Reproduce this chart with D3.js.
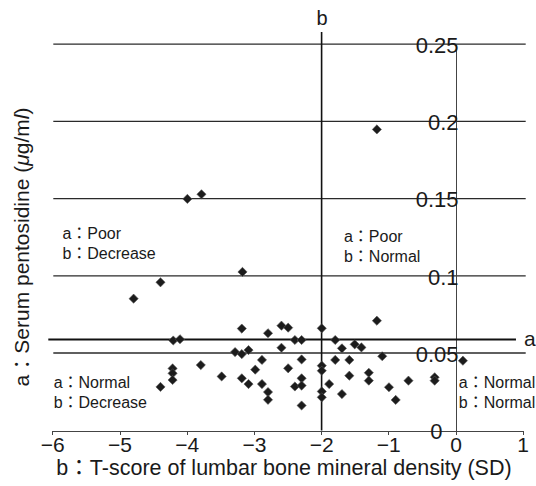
<!DOCTYPE html>
<html lang="en">
	<head>
		<meta charset="utf-8">
		<title>D3: Pentosidine vs T-score</title>
		<script src="https://d3js.org/d3.v7.min.js"></script>
		<style type="text/css">
			body {
				margin: 0;
				background: white;
			}
			text {
				font-family: "Liberation Sans", Arial, "Noto Sans CJK JP", sans-serif;
				fill: #1a1a1a;
			}
			.grid line {
				stroke: #2a2a2a;
				stroke-width: 1.3;
			}
			.axis path,
			.axis line {
				fill: none;
				stroke: #444;
				shape-rendering: crispEdges;
			}
			.x.axis text {
				font-size: 21px;
			}
			.y.axis text {
				font-size: 22px;
			}
			.quad {
				font-size: 16px;
			}
			path.point {
				fill: #1c1c1c;
				stroke: #555;
				stroke-width: 0.6;
			}
		</style>
	</head>
	<body>
		<script type="text/javascript">
			//Width and height
			var w = 536;
			var h = 486;

			//T-score of lumbar BMD (SD)
			var tScore = [
				-1.17, -3.99, -3.78, -3.17, -4.39, -4.79, -3.18, -2.79, -2.59, -2.49,
				-1.99, -1.17, -4.20, -4.10, -2.39, -2.29, -1.79, -3.28, -3.18, -3.08,
				-2.59, -1.69, -1.50, -1.40, -1.09, -2.88, -2.29, -1.79, -1.58, 0.11,
				-3.79, -1.99, -1.99, -2.98, -2.49, -4.21, -4.21, -4.21, -3.48, -3.18,
				-2.29, -1.58, -1.29, -1.29, -0.70, -0.31, -0.31, -3.08, -2.88, -2.39,
				-2.29, -1.88, -4.39, -0.99, -2.79, -1.99, -1.99, -1.69, -2.79, -0.89,
				-2.29
			];
			//Serum pentosidine (ug/ml)
			var pentosidine = [
				0.195, 0.150, 0.153, 0.1027, 0.096, 0.0854, 0.066, 0.063, 0.0679, 0.0666,
				0.0662, 0.0711, 0.0583, 0.0591, 0.0586, 0.0586, 0.0586, 0.0508, 0.0495, 0.0521,
				0.0536, 0.0532, 0.0558, 0.0538, 0.0481, 0.0457, 0.046, 0.0457, 0.0457, 0.0452,
				0.0424, 0.042, 0.0387, 0.0394, 0.0403, 0.0402, 0.037, 0.0327, 0.035, 0.0338,
				0.0338, 0.0355, 0.0374, 0.0323, 0.0323, 0.0345, 0.0323, 0.0301, 0.0301, 0.0285,
				0.0291, 0.0301, 0.0282, 0.028, 0.0249, 0.0253, 0.0215, 0.0236, 0.0199, 0.0198,
				0.0162
			];

			var xTicks = [-6, -5, -4, -3, -2, -1, 0, 1];
			var yTicks = [0, 0.05, 0.1, 0.15, 0.2, 0.25];
			var yTickLabels = ["0", "0.05", "0.1", "0.15", "0.2", "0.25"];

			//Cut-off lines
			var aCutoff = 0.059;	//pentosidine
			var bCutoff = -2;		//T-score

			//Quadrant captions: position in data units, two lines each
			var quadX = [-5.85, -1.66, -5.98, 0.05];
			var quadY = [0.124, 0.1224, 0.0275, 0.0275];
			var quadA = ["a：Poor", "a：Poor", "a：Normal", "a：Normal"];
			var quadB = ["b：Decrease", "b：Normal", "b：Decrease", "b：Normal"];

			var dataset = tScore.map(function(d, i) { return [d, pentosidine[i]]; });

			//Create scale functions
			var xScale = d3.scaleLinear()
								 .domain([-6, 1])
								 .range([52.3, 522.7]);
			var yScale = d3.scaleLinear()
								 .domain([0, 0.25])
								 .range([430.5, 44.5]);

			//Create SVG element
			var svg = d3.select("body")
						.append("svg")
						.attr("width", w)
						.attr("height", h);

			//Horizontal grid lines (every y tick except 0)
			svg.append("g")
			   .attr("class", "grid")
			   .selectAll("line")
			   .data(yTicks.filter(function(d) { return d > 0; }))
			   .enter()
			   .append("line")
			   .attr("x1", xScale(-6) + 1)
			   .attr("x2", xScale(1) + 3)
			   .attr("y1", function(d) { return yScale(d) - 0.3; })
			   .attr("y2", function(d) { return yScale(d) - 0.3; });

			//X axis
			var xAxis = d3.axisBottom()
							  .scale(xScale)
							  .tickValues(xTicks)
							  .tickFormat(d3.format("d"))
							  .tickSizeInner(4)
							  .tickSizeOuter(0)
							  .tickPadding(3);
			svg.append("g")
				.attr("class", "x axis")
				.attr("transform", "translate(0," + yScale(0) + ")")
				.call(xAxis)
				.attr("font-size", null)
				.attr("font-family", null);

			//Y axis (at T-score 0)
			var yAxis = d3.axisLeft()
							  .scale(yScale)
							  .tickValues(yTicks)
							  .tickFormat(function(d, i) { return yTickLabels[i]; })
							  .tickSize(0)
							  .tickPadding(-3);
			var yG = svg.append("g")
				.attr("class", "y axis")
				.attr("transform", "translate(" + xScale(0) + ",0)")
				.call(yAxis)
				.attr("font-size", null)
				.attr("font-family", null);
			yG.selectAll(".tick text")
				.attr("dy", "0.36em")
				.filter(function(d) { return d === 0; })
				.attr("x", -13);

			//Cut-off a (horizontal)
			svg.append("line")
			   .attr("x1", xScale(-6) - 4)
			   .attr("x2", xScale(0.9))
			   .attr("y1", yScale(aCutoff))
			   .attr("y2", yScale(aCutoff))
			   .attr("stroke", "#111")
			   .attr("stroke-width", 2);
			svg.append("text")
			   .attr("x", 524)
			   .attr("y", yScale(aCutoff) + 7)
			   .attr("font-size", 21)
			   .text("a");

			//Cut-off b (vertical)
			svg.append("line")
			   .attr("x1", xScale(bCutoff) + 0.5)
			   .attr("x2", xScale(bCutoff) + 0.5)
			   .attr("y1", 32)
			   .attr("y2", yScale(0))
			   .attr("stroke", "#111")
			   .attr("stroke-width", 1.6);
			svg.append("text")
			   .attr("x", xScale(bCutoff) + 1)
			   .attr("y", 25)
			   .attr("text-anchor", "middle")
			   .attr("font-size", 20)
			   .text("b");

			//Quadrant captions
			var quad = svg.append("g")
				.selectAll("text")
				.data(quadA)
				.enter()
				.append("text")
				.attr("class", "quad")
				.attr("x", function(d, i) { return xScale(quadX[i]); })
				.attr("y", function(d, i) { return yScale(quadY[i]); });
			quad.append("tspan")
				.text(function(d) { return d; });
			quad.append("tspan")
				.attr("x", function(d, i) { return xScale(quadX[i]); })
				.attr("dy", 20)
				.text(function(d, i) { return quadB[i]; });

			//Create points
			svg.append("g")
			   .attr("id", "points")
			   .selectAll("path")
			   .data(dataset)
			   .enter()
			   .append("path")
			   .attr("class", "point")
			   .attr("d", d3.symbol().type(d3.symbolDiamond2).size(54))
			   .attr("transform", function(d) {
					return "translate(" + xScale(d[0]) + "," + yScale(d[1]) + ")";
			   });

			//X axis title
			svg.append("text")
			   .attr("x", 284)
			   .attr("y", 475)
			   .attr("text-anchor", "middle")
			   .attr("font-size", 21.5)
			   .text("b：T-score of lumbar bone mineral density (SD)");

			//Y axis title
			var yTitle = svg.append("text")
			   .attr("transform", "translate(29,247) rotate(-90)")
			   .attr("text-anchor", "middle")
			   .attr("font-size", 21);
			yTitle.append("tspan").text("a：Serum pentosidine (");
			yTitle.append("tspan").attr("font-style", "italic").text("μ");
			yTitle.append("tspan").text("g/m");
			yTitle.append("tspan").attr("font-style", "italic").text("l");
			yTitle.append("tspan").text(")");
		</script>
	</body>
</html>
